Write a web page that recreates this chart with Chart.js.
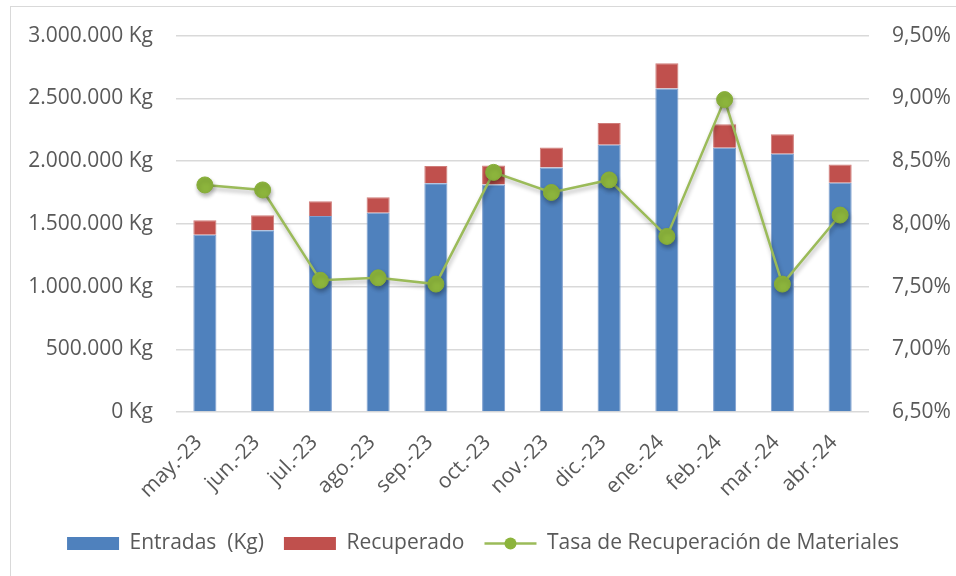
<!DOCTYPE html>
<html>
<head>
  <meta charset="utf-8">
  <title>Recuperación de Materiales</title>
  <script src="https://cdn.jsdelivr.net/npm/chart.js"></script>
  <style>
    body { margin: 0; background: #fff; }
    #frame {
        position: absolute;
        left: 10px;
        top: 6px;
        width: 960px;
        height: 600px;
        border: 1px solid #d9d9d9;
    }
    #chartContainer {
        position: absolute;
        left: 0;
        top: 0;
        width: 956px;
        height: 576px;
    }
  </style>
</head>
<body>
  <div id="frame"></div>
  <div id="chartContainer">
    <canvas id="myChart"></canvas>
  </div>

  <script>
    // meses
    const meses = ['may.-23', 'jun.-23', 'jul.-23', 'ago.-23', 'sep.-23', 'oct.-23',
                   'nov.-23', 'dic.-23', 'ene.-24', 'feb.-24', 'mar.-24', 'abr.-24'];

    // kg que entran
    const entradas = [1413000, 1448000, 1563000, 1589000, 1824000, 1813000,
                      1949000, 2131000, 2579000, 2107000, 2059000, 1827000];

    // kg recuperados (encima de entradas)
    const recuperado = [115000, 120000, 117000, 123000, 136000, 152000,
                        160000, 173000, 200000, 186000, 154000, 146000];

    // tasa en %
    const tasa = [8.31, 8.27, 7.55, 7.57, 7.52, 8.41,
                  8.25, 8.35, 7.90, 8.99, 7.52, 8.07];

    const fontFam = '"Open Sans", sans-serif';
    const gris = '#595959';

    // sombra para la linea (como en excel)
    const shadowPlugin = {
        id: 'shadowLine',
        beforeDatasetDraw(chart, args) {
            if (args.index === 2) {
                const c = chart.ctx;
                c.save();
                c.shadowColor = 'rgba(0,0,0,0.3)';
                c.shadowBlur = 4;
                c.shadowOffsetX = 1;
                c.shadowOffsetY = 3;
            }
        },
        afterDatasetDraw(chart, args) {
            if (args.index === 2) chart.ctx.restore();
        }
    };

    // simbolo de linea con punto en la leyenda
    const legendLine = {
        id: 'legendLine',
        afterDraw(chart) {
            const lg = chart.legend;
            if (!lg || !lg.legendHitBoxes) return;
            const items = lg.legendItems;
            for (let i = 0; i < items.length; i++) {
                if (items[i].datasetIndex !== 2) continue;
                const b = lg.legendHitBoxes[i];
                const c = chart.ctx;
                const cy = b.top + b.height / 2;
                const bw = lg.options.labels.boxWidth;
                c.save();
                c.strokeStyle = '#9bbb59';
                c.lineWidth = 2.5;
                c.beginPath();
                c.moveTo(b.left, cy);
                c.lineTo(b.left + bw, cy);
                c.stroke();
                c.fillStyle = '#8cb43c';
                c.beginPath();
                c.arc(b.left + bw / 2, cy, 6, 0, Math.PI * 2);
                c.fill();
                c.restore();
            }
        }
    };

    const ctx = document.getElementById('myChart').getContext('2d');
    const myChart = new Chart(ctx, {
        type: 'bar',
        data: {
            labels: meses,
            datasets: [{
                label: 'Entradas  (Kg)',
                data: entradas,
                backgroundColor: '#4f81bd',
                borderColor: '#7e9fcf',
                borderWidth: 1,
                stack: 's1',
                order: 1
            }, {
                label: 'Recuperado',
                data: recuperado,
                backgroundColor: '#c0504d',
                borderColor: '#cf7c79',
                borderWidth: 1,
                stack: 's1',
                order: 1
            }, {
                type: 'line',
                label: 'Tasa de Recuperación de Materiales',
                data: tasa,
                yAxisID: 'y1',
                borderColor: '#9bbb59',
                borderWidth: 2.5,
                backgroundColor: '#8cb43c',
                pointBackgroundColor: '#8cb43c',
                pointBorderColor: '#86ad38',
                pointBorderWidth: 1,
                pointRadius: 8,
                tension: 0,
                order: 0
            }]
        },
        options: {
            responsive: true,
            maintainAspectRatio: false,
            animation: false,
            layout: { padding: { left: 10, right: 0, top: 20, bottom: 12 } },
            datasets: {
                bar: { categoryPercentage: 1, barPercentage: 0.4 }
            },
            plugins: {
                tooltip: { enabled: false },
                legend: {
                    position: 'bottom',
                    labels: {
                        color: gris,
                        font: { family: fontFam, size: 21 },
                        boxWidth: 52,
                        boxHeight: 13,
                        padding: 20,
                        sort: (a, b) => a.datasetIndex - b.datasetIndex,
                        generateLabels(chart) {
                            const items = Chart.defaults.plugins.legend.labels.generateLabels(chart);
                            items.forEach(it => {
                                it.lineWidth = 0;
                                if (it.datasetIndex === 2) {
                                    it.fillStyle = 'rgba(0,0,0,0)';
                                    it.strokeStyle = 'rgba(0,0,0,0)';
                                }
                            });
                            return items;
                        }
                    }
                }
            },
            scales: {
                x: {
                    stacked: true,
                    grid: { display: false },
                    border: { display: false },
                    ticks: {
                        color: gris,
                        font: { family: fontFam, size: 21 },
                        maxRotation: 45,
                        minRotation: 45,
                        labelOffset: -6,
                        padding: 10
                    }
                },
                y: {
                    stacked: true,
                    min: 0,
                    max: 3000000,
                    grid: { color: '#d9d9d9', lineWidth: 1.5, drawTicks: false },
                    border: { display: false },
                    ticks: {
                        stepSize: 500000,
                        color: gris,
                        padding: 23,
                        font: { family: fontFam, size: 21 },
                        callback: v => v.toLocaleString('de-DE') + ' Kg'
                    },
                    afterFit(scale) { scale.width = 166; }
                },
                y1: {
                    position: 'right',
                    min: 6.5,
                    max: 9.5,
                    grid: { drawOnChartArea: false, drawTicks: false },
                    border: { display: false },
                    ticks: {
                        stepSize: 0.5,
                        color: gris,
                        padding: 23,
                        font: { family: fontFam, size: 21 },
                        callback: v => v.toFixed(2).replace('.', ',') + '%'
                    },
                    afterFit(scale) { scale.width = 87; }
                }
            }
        },
        plugins: [shadowPlugin, legendLine]
    });
  </script>
</body>
</html>
